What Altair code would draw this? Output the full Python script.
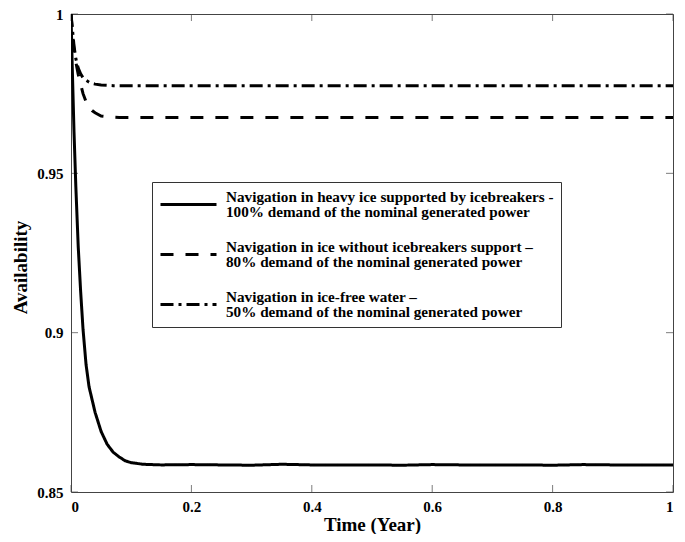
import altair as alt
import pandas as pd

# ---- data ----
time = [0, 0.002, 0.005, 0.008, 0.012, 0.016, 0.02, 0.025, 0.03, 0.035, 0.04,
        0.05, 0.06, 0.07, 0.08, 0.09, 0.1, 0.12, 0.15, 0.2, 0.25, 0.3, 0.35,
        0.4, 0.45, 0.5, 0.55, 0.6, 0.65, 0.7, 0.75, 0.8, 0.85, 0.9, 0.95, 1.0]

heavy_ice = [1.0, 0.984, 0.963, 0.946, 0.927, 0.913, 0.901, 0.890, 0.883, 0.879,
             0.875, 0.869, 0.865, 0.8625, 0.861, 0.8598, 0.8592, 0.8587, 0.8585,
             0.8586, 0.8585, 0.8584, 0.8587, 0.8585, 0.8585, 0.8585, 0.8584,
             0.8586, 0.8585, 0.8585, 0.8585, 0.8584, 0.8586, 0.8585, 0.8585, 0.8585]

ice_no_breaker = [1.0, 0.995, 0.989, 0.985, 0.981, 0.978, 0.975, 0.9725, 0.9708,
                  0.9697, 0.969, 0.968, 0.9678, 0.9676, 0.9675, 0.9675, 0.9675,
                  0.9675, 0.9675, 0.9675, 0.9675, 0.9675, 0.9675, 0.9675, 0.9675,
                  0.9675, 0.9675, 0.9675, 0.9675, 0.9675, 0.9675, 0.9675, 0.9675,
                  0.9675, 0.9675, 0.9675]

ice_free = [1.0, 0.996, 0.990, 0.986, 0.983, 0.9812, 0.980, 0.9792, 0.9786,
            0.9782, 0.978, 0.9777, 0.9776, 0.9775, 0.9775, 0.9775, 0.9775,
            0.9775, 0.9775, 0.9775, 0.9775, 0.9775, 0.9775, 0.9775, 0.9775,
            0.9775, 0.9775, 0.9775, 0.9775, 0.9775, 0.9775, 0.9775, 0.9775,
            0.9775, 0.9775, 0.9775]

series_names = [
    "Navigation in heavy ice supported by icebreakers -|100% demand of the nominal generated power",
    "Navigation in ice without icebreakers support \u2013|80% demand of the nominal generated power",
    "Navigation in ice-free water \u2013|50% demand of the nominal generated power",
]

x_ticks = [0, 0.2, 0.4, 0.6, 0.8, 1]
y_ticks = [0.85, 0.9, 0.95, 1]

# ---- tables ----
rows = []
for name, vals in zip(series_names, [heavy_ice, ice_no_breaker, ice_free]):
    for t, v in zip(time, vals):
        rows.append({"time": t, "avail": v, "series": name})
df = pd.DataFrame(rows)

xs = alt.Scale(domain=[0, 1], nice=False, zero=False)
ys = alt.Scale(domain=[0.85, 1], nice=False, zero=False)

FONT = "Liberation Serif"

lines = alt.Chart(df).mark_line(strokeWidth=3, color="black", clip=True).encode(
    x=alt.X("time:Q", scale=xs,
            axis=alt.Axis(values=x_ticks, format="~g", title="Time (Year)",
                          ticks=False, domain=False, grid=False,
                          labelPadding=7, titleBaseline="alphabetic", titleY=38)),
    y=alt.Y("avail:Q", scale=ys,
            axis=alt.Axis(values=y_ticks, format="~g", title="Availability",
                          ticks=False, domain=False, grid=False,
                          labelPadding=8, titleBaseline="alphabetic",
                          titleX=-45, titleY=253)),
    strokeDash=alt.StrokeDash(
        "series:N", sort=series_names,
        scale=alt.Scale(domain=series_names, range=[[1, 0], [13, 12], [13, 5, 3, 5]]),
        legend=alt.Legend(title=None, orient="none", legendX=81, legendY=168,
                          labelExpr="split(datum.label, '|')",
                          labelBaseline="bottom",
                          symbolType="M-1,0H3", symbolSize=784,
                          symbolStrokeWidth=3, symbolStrokeColor="black",
                          labelOffset=36, labelLimit=600, rowPadding=19,
                          padding=7, strokeColor="#333", fillColor="white"),
    ),
)

bottom = pd.DataFrame({"x": x_ticks, "y": [0.85] * len(x_ticks)})
top = pd.DataFrame({"x": x_ticks, "y": [1.0] * len(x_ticks)})
left = pd.DataFrame({"x": [0.0] * len(y_ticks), "y": y_ticks})
right = pd.DataFrame({"x": [1.0] * len(y_ticks), "y": y_ticks})

def tick_layer(data, orient, **off):
    return alt.Chart(data).mark_tick(orient=orient, size=7, thickness=1,
                                     color="#444", **off).encode(
        x=alt.X("x:Q", scale=xs), y=alt.Y("y:Q", scale=ys))

ticks = (tick_layer(bottom, "vertical", yOffset=-3.5)
         + tick_layer(top, "vertical", yOffset=3.5)
         + tick_layer(left, "horizontal", xOffset=3.5)
         + tick_layer(right, "horizontal", xOffset=-3.5))

chart = alt.layer(ticks, lines).properties(
    width=602, height=478,
    padding={"left": 63, "top": 6, "right": 4, "bottom": 42},
    autosize=alt.AutoSizeParams(type="none"),
    background="white",
).configure(
    style={"guide-label": {"lineHeight": 15}}
).configure_view(stroke="#444", strokeWidth=1).configure_axis(
    labelFont=FONT, labelFontWeight="bold", labelFontSize=15, labelColor="black",
    titleFont=FONT, titleFontWeight="bold", titleFontSize=19, titleColor="black",
).configure_legend(
    labelFont=FONT, labelFontWeight="bold", labelFontSize=15.2, labelColor="black",
)

chart.save("out.html", embed_options={"renderer": "svg", "actions": False})
